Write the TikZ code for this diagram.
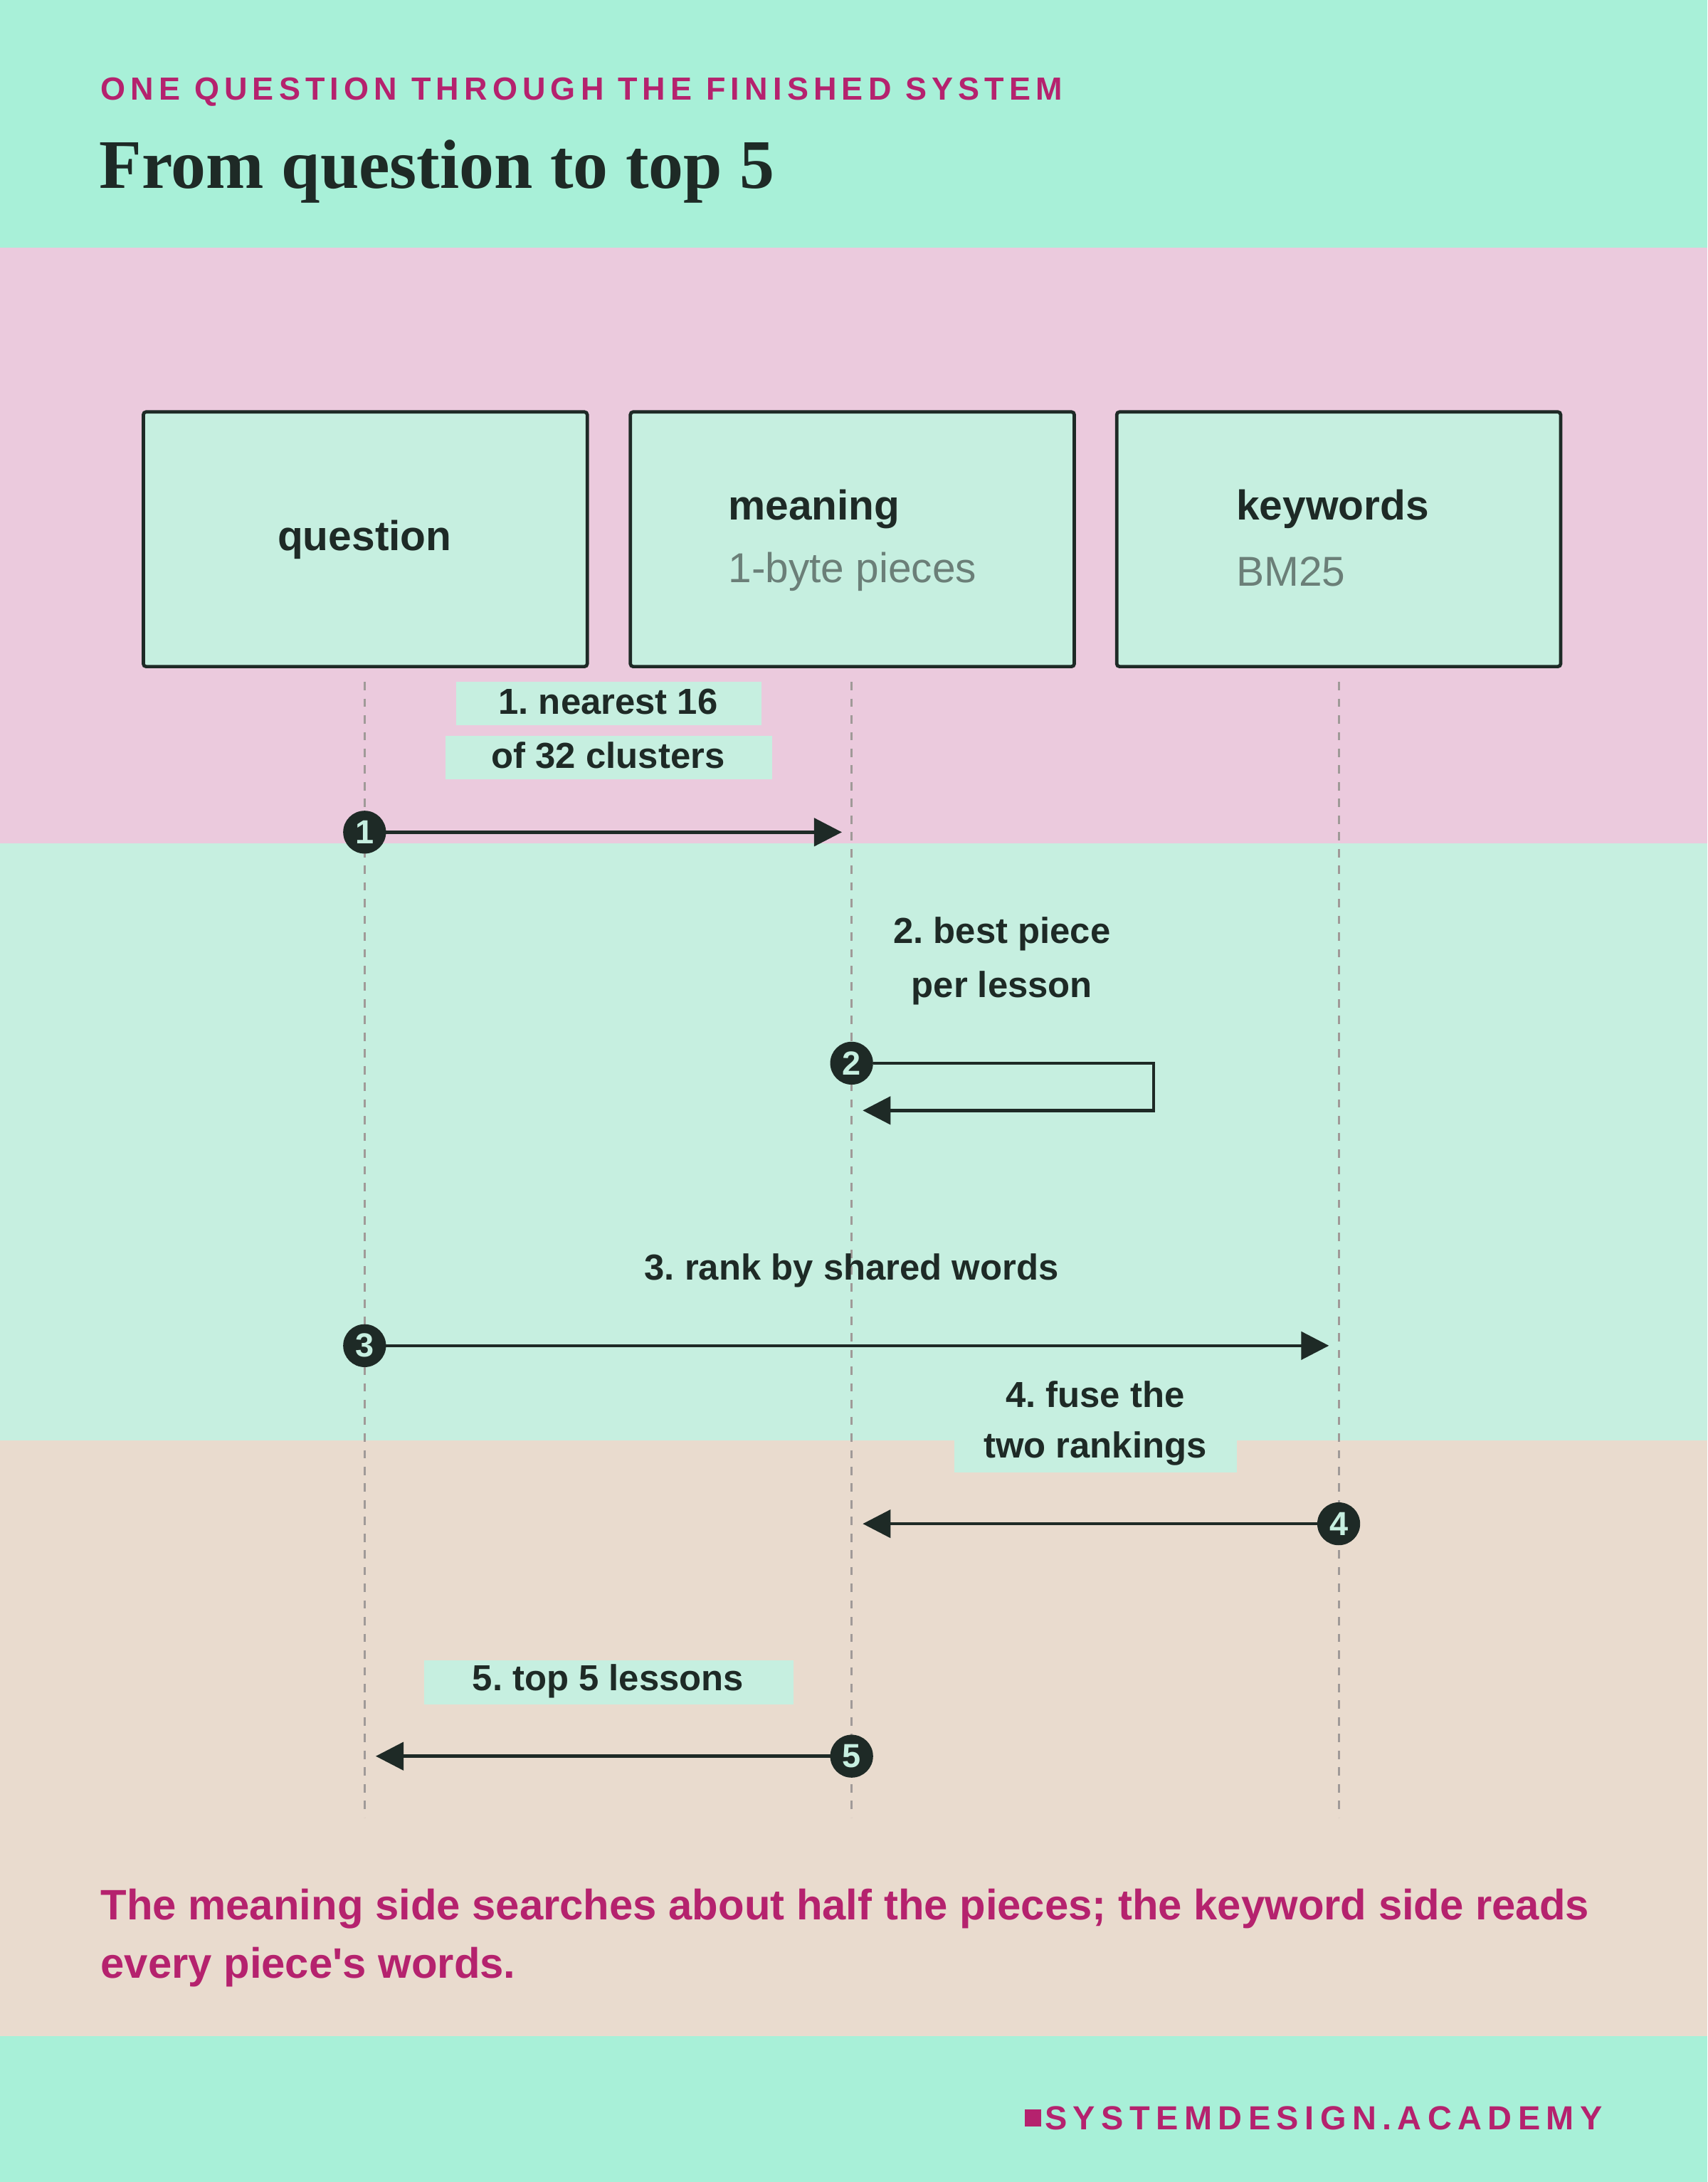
\documentclass[tikz,border=0pt]{standalone}
\usepackage{fontspec}
\setmainfont{Liberation Serif}
\setsansfont{Liberation Sans}
\usetikzlibrary{arrows.meta}
\definecolor{hdr}{HTML}{A8F0D8}
\definecolor{pinkb}{HTML}{EBCADD}
\definecolor{mint}{HTML}{C6EFE0}
\definecolor{beige}{HTML}{E9DBCE}
\definecolor{ink}{HTML}{1E2A26}
\definecolor{mag}{HTML}{B5226E}
\definecolor{subg}{HTML}{6B7F78}
\definecolor{lifeg}{HTML}{A09A98}
\begin{document}
\frenchspacing
\begin{tikzpicture}[x=0.5pt,y=-0.5pt,
  actor/.style={draw=ink,line width=1.2pt,fill=mint,minimum width=159.5pt,minimum height=91.5pt,inner sep=0,rounded corners=1pt},
  life/.style={lifeg,dashed,line width=0.8pt,dash pattern=on 3pt off 3pt},
  msg/.style={ink,line width=1.2pt,-{Triangle[length=10pt,width=10pt]}},
  lab/.style={font=\sffamily\fontsize{13}{15}\selectfont\bfseries,text=ink,inner sep=0},
  num/.style={circle,fill=ink,draw=ink,inner sep=0,minimum size=15pt,text=mint,font=\sffamily\fontsize{12}{12}\selectfont\bfseries}]
\useasboundingbox (0,0) rectangle (1227,1568);
\fill[hdr] (0,0) rectangle (1227,178);
\fill[pinkb] (0,178) rectangle (1227,606);
\fill[mint] (0,606) rectangle (1227,1035);
\fill[beige] (0,1035) rectangle (1227,1463);
\fill[hdr] (0,1463) rectangle (1227,1568);
\node[anchor=west,inner sep=0,text=mag,font=\sffamily\bfseries\fontsize{11.5}{12}\selectfont\addfontfeature{LetterSpace=16}] (kick) at (72,66) {ONE QUESTION THROUGH THE FINISHED SYSTEM};
\node[anchor=west,inner sep=0,text=ink,font=\rmfamily\bfseries\fontsize{25}{28}\selectfont] (title) at (71,123) {From question to top 5};
% lifelines
\coordinate (qt) at (262,490); \coordinate (qb) at (262,1306);
\coordinate (mt) at (612,490); \coordinate (mb) at (612,1306);
\coordinate (kt) at (962,490); \coordinate (kb) at (962,1306);
\draw[life] (qt)--(qb); \draw[life] (mt)--(mb); \draw[life] (kt)--(kb);
% actors
\node[actor] (q) at (262.5,387.5) {};
\node[font=\sffamily\bfseries\fontsize{15}{18}\selectfont,text=ink] (qlab) at (262,388) {question};
\node[actor] (m) at (612.5,387.5) {};
\node[anchor=west,inner sep=0,font=\sffamily\bfseries\fontsize{15}{18}\selectfont,text=ink] (mlab) at (523,366) {meaning};
\node[anchor=west,inner sep=0,font=\sffamily\fontsize{15}{18}\selectfont,text=subg] (msub) at (523,411) {1-byte pieces};
\node[actor] (k) at (962,387.5) {};
\node[anchor=west,inner sep=0,font=\sffamily\bfseries\fontsize{15}{18}\selectfont,text=ink] (klab) at (888,366) {keywords};
\node[anchor=west,inner sep=0,font=\sffamily\fontsize{15}{18}\selectfont,text=subg] (ksub) at (888,411) {BM25};
% step 1
\fill[mint] (328,490) rectangle (547,521);
\fill[mint] (320,529) rectangle (555,560);
\node[lab] (l1a) at (437,504) {1. nearest 16};
\node[lab] (l1b) at (437,543) {of 32 clusters};
\node[num] (n1) at (262,598) {1};
\coordinate (e1) at (605,598);
\draw[msg] (n1)--(e1);
% step 2
\node[lab] (l2a) at (720,671) {2. best piece};
\node[lab] (l2b) at (720,710) {per lesson};
\node[num] (n2) at (612,764) {2};
\coordinate (c2a) at (829,764); \coordinate (c2b) at (829,798); \coordinate (e2) at (620,798);
\draw[msg] (n2)--(c2a)--(c2b)--(e2);
% step 3
\node[lab] (l3) at (612,913) {3. rank by shared words};
\node[num] (n3) at (262,967) {3};
\coordinate (e3) at (955,967);
\draw[msg] (n3)--(e3);
% step 4
\fill[mint] (686,1025) rectangle (889,1058);
\node[lab] (l4a) at (787,1002) {4. fuse the};
\node[lab] (l4b) at (787,1041) {two rankings};
\node[num] (n4) at (962,1095) {4};
\coordinate (e4) at (620,1095);
\draw[msg] (n4)--(e4);
% step 5
\fill[mint] (305,1193) rectangle (570,1225);
\node[lab] (l5) at (437,1208) {5. top 5 lessons};
\node[num] (n5) at (612,1262) {5};
\coordinate (e5) at (270,1262);
\draw[msg] (n5)--(e5);
% caption
\node[anchor=north west,inner sep=0,text=mag,align=left,font=\sffamily\bfseries\fontsize{15.3}{21}\selectfont\addfontfeature{Ligatures=TeXOff}] (cap) at (72,1357) {The meaning side searches about half the pieces; the keyword side reads\\every piece's words.};
% footer
\node[anchor=east,inner sep=0,text=mag,font=\sffamily\bfseries\fontsize{12}{12}\selectfont\addfontfeature{LetterSpace=18}] (foot) at (1152,1522) {SYSTEMDESIGN.ACADEMY};
\fill[mag] ([xshift=-7pt,yshift=-3pt]foot.west) rectangle ([xshift=-1pt,yshift=3pt]foot.west);
\end{tikzpicture}
\end{document}
